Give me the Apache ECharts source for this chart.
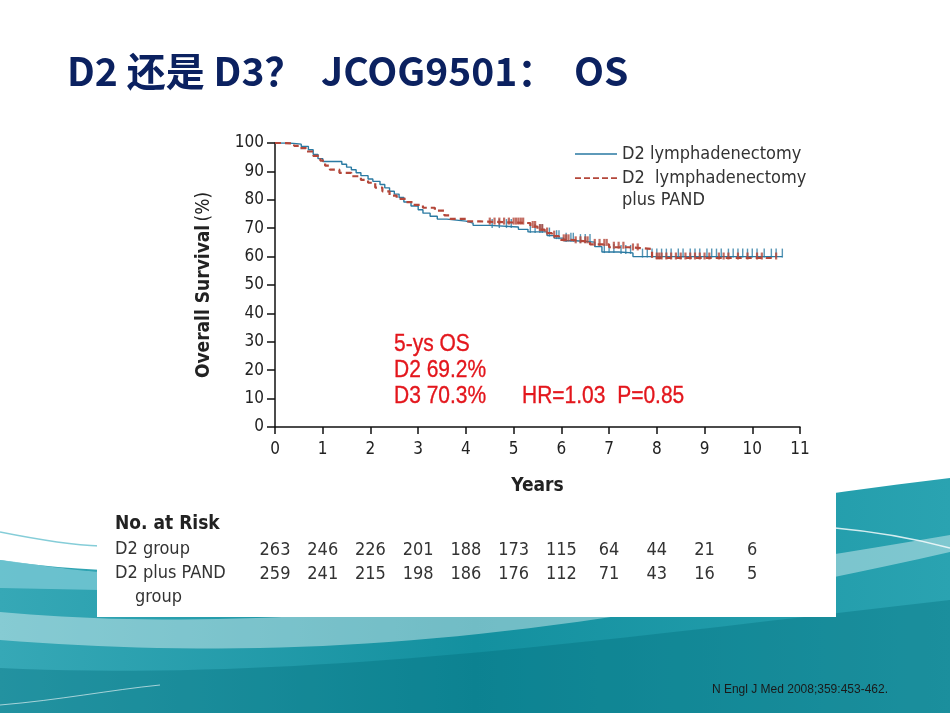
<!DOCTYPE html>
<html>
<head>
<meta charset="utf-8">
<title>D2 还是 D3 JCOG9501 OS</title>
<script src="https://cdn.jsdelivr.net/npm/echarts@6/dist/echarts.min.js"></script>
<style>
  html, body { margin: 0; padding: 0; background: #fff; }
  #main { width: 950px; height: 713px; }
</style>
</head>
<body>
<div id="main"></div>
<script>
// Kaplan-Meier steps: [years, overall survival %]
var d2Steps = [
  [0, 100], [0.3, 99.6], [0.55, 98.8], [0.7, 97.6], [0.8, 96], [0.9, 94.5], [1.0, 93.5],
  [1.4, 92.5], [1.5, 91.5], [1.6, 90.6], [1.7, 89.5], [1.8, 88.5], [1.95, 87.3], [2.05, 86.5],
  [2.2, 85.4], [2.3, 84.2], [2.4, 83], [2.5, 82], [2.6, 80.8], [2.7, 79.2], [2.85, 77.8],
  [3.0, 76.5], [3.1, 75.3], [3.25, 74.2], [3.4, 73.2], [3.6, 72.5], [4.0, 71.8], [4.15, 71.0],
  [4.5, 70.4], [5.1, 69.6], [5.3, 68.7], [5.7, 67.4], [5.85, 66.5], [6.05, 65.6], [6.3, 65.1],
  [6.7, 63.5], [6.85, 61.6], [7.2, 61.3], [7.5, 60], [10.63, 60]
];
var d3Steps = [
  [0, 100], [0.2, 99.8], [0.4, 99], [0.5, 98.2], [0.65, 97], [0.8, 95.5], [0.95, 93.8],
  [1.05, 92], [1.15, 90.6], [1.35, 89.5], [1.6, 88.3], [1.8, 87], [1.95, 86], [2.1, 84.3],
  [2.25, 83], [2.4, 81.5], [2.55, 80.3], [2.75, 79.2], [2.9, 78.2], [3.1, 77.2], [3.35, 76.2],
  [3.55, 74.5], [3.65, 73.3], [4.0, 72.4], [4.3, 71.8], [5.35, 70.6], [5.5, 69.5], [5.65, 68.3],
  [5.8, 67.2], [5.95, 65.9], [6.2, 65.2], [6.6, 64.3], [7.0, 63.3], [7.4, 62.7], [7.9, 59.5],
  [10.5, 59.5]
];
// censoring ticks [years, survival %]
var d2Censored = [
  [4.55, 70.4], [4.7, 70.4], [4.85, 70.4], [4.95, 70.4], [5.35, 68.7], [5.45, 68.7], [5.55, 68.7],
  [5.6, 68.7], [5.75, 67.4], [5.9, 66.5], [5.95, 66.5], [6.1, 65.6], [6.2, 65.6], [6.25, 65.6],
  [6.4, 65.1], [6.5, 65.1], [6.6, 65.1], [6.9, 61.6], [7.0, 61.6], [7.1, 61.6], [7.25, 61.3],
  [7.35, 61.3], [7.45, 61.3], [7.7, 60], [7.8, 60], [7.9, 60], [8.0, 60], [8.1, 60], [8.2, 60],
  [8.3, 60], [8.45, 60], [8.55, 60], [8.7, 60], [8.8, 60], [8.9, 60], [9.05, 60], [9.15, 60],
  [9.25, 60], [9.35, 60], [9.5, 60], [9.6, 60], [9.7, 60], [9.8, 60], [9.9, 60], [10.0, 60],
  [10.1, 60], [10.25, 60], [10.4, 60], [10.5, 60], [10.63, 60]
];
var d3Censored = [
  [4.5, 71.8], [4.6, 71.8], [4.7, 71.8], [4.8, 71.8], [4.9, 71.8], [5.0, 71.8], [5.05, 71.8],
  [5.1, 71.8], [5.15, 71.8], [5.2, 71.8], [5.4, 70.6], [5.45, 70.6], [5.55, 69.5], [5.6, 69.5],
  [5.7, 68.3], [5.85, 67.2], [6.05, 65.9], [6.1, 65.9], [6.15, 65.9], [6.3, 65.2], [6.4, 65.2],
  [6.5, 65.2], [6.55, 65.2], [6.7, 64.3], [6.8, 64.3], [6.9, 64.3], [6.95, 64.3], [7.1, 63.3],
  [7.2, 63.3], [7.3, 63.3], [7.5, 62.7], [7.6, 62.7], [8.0, 59.5], [8.05, 59.5], [8.1, 59.5],
  [8.2, 59.5], [8.3, 59.5], [8.4, 59.5], [8.5, 59.5], [8.6, 59.5], [8.7, 59.5], [8.8, 59.5],
  [8.9, 59.5], [9.0, 59.5], [9.1, 59.5], [9.3, 59.5], [9.4, 59.5], [9.5, 59.5], [9.7, 59.5],
  [9.9, 59.5], [10.1, 59.5], [10.2, 59.5], [10.5, 59.5]
];
var riskYears = [0, 1, 2, 3, 4, 5, 6, 7, 8, 9, 10];
var d2AtRisk = [263, 246, 226, 201, 188, 173, 115, 64, 44, 21, 6];
var d3AtRisk = [259, 241, 215, 198, 186, 176, 112, 71, 43, 16, 5];

var blue = '#2a7aa2';
var red = '#b4473a';
var narrow = "'DejaVu Sans Condensed', 'Liberation Sans Narrow', sans-serif";

var myChart = echarts.init(document.getElementById('main'));
var option = {
  backgroundColor: '#fff',
  animation: false,
  grid: { left: 275, right: 150, top: 143, bottom: 286 },
  legend: {
    left: 570, top: 140, orient: 'vertical', itemWidth: 42, itemHeight: 10, itemGap: 6,
    data: [
      { name: 'D2 lymphadenectomy', icon: 'path://M0,0h42v0.01h-42z M0,4.3h42v1.5h-42z M0,9.99h42v0.01h-42z' },
      {
        name: 'D2 lymphadenectomy plus PAND',
        icon: 'path://M0,0h42v0.01h-42z M0,4.2h6v1.8h-6z M9,4.2h6v1.8h-6z M18,4.2h6v1.8h-6z M27,4.2h6v1.8h-6z M36,4.2h6v1.8h-6z M0,9.99h42v0.01h-42z'
      }
    ],
    formatter: function (name) {
      return name === 'D2 lymphadenectomy plus PAND' ? 'D2  lymphadenectomy' : name;
    },
    textStyle: { fontFamily: narrow, fontSize: 18, color: '#333' }
  },
  xAxis: {
    type: 'value', min: 0, max: 11, interval: 1,
    name: 'Years', nameLocation: 'middle', nameGap: 50,
    nameTextStyle: { fontFamily: narrow, fontSize: 19, fontWeight: 'bold', color: '#222' },
    axisLine: { lineStyle: { color: '#111', width: 1.5 } },
    axisTick: { length: 7, lineStyle: { color: '#111', width: 1.5 } },
    axisLabel: { fontFamily: narrow, fontSize: 17, color: '#222', margin: 14 },
    splitLine: { show: false }
  },
  yAxis: {
    type: 'value', min: 0, max: 100, interval: 10,
    name: '{b|Overall Survival} {n|(%)}', nameLocation: 'middle', nameGap: 61,
    nameTextStyle: {
      rich: {
        b: { fontFamily: narrow, fontSize: 19, fontWeight: 'bold', color: '#222' },
        n: { fontFamily: narrow, fontSize: 19, color: '#222' }
      }
    },
    axisLine: { show: true, lineStyle: { color: '#111', width: 1.5 } },
    axisTick: { length: 8, lineStyle: { color: '#111', width: 1.5 } },
    axisLabel: { fontFamily: narrow, fontSize: 17, color: '#222', margin: 11 },
    splitLine: { show: false }
  },
  series: [
    {
      name: 'D2 lymphadenectomy', type: 'line', step: 'end', symbol: 'none', z: 3,
      lineStyle: { color: blue, width: 1.4 }, itemStyle: { color: blue },
      data: d2Steps
    },
    {
      name: 'D2 lymphadenectomy plus PAND', type: 'line', step: 'end', symbol: 'none', z: 4,
      lineStyle: { color: red, width: 2.2, type: [6, 4] }, itemStyle: { color: red },
      data: d3Steps
    },
    {
      name: 'D2 censored', type: 'scatter', symbol: 'rect', symbolSize: [1.4, 9],
      symbolOffset: [0, -3.5], itemStyle: { color: blue }, z: 3, data: d2Censored
    },
    {
      name: 'D3 censored', type: 'scatter', symbol: 'rect', symbolSize: [2.2, 7],
      symbolOffset: [0, -2], itemStyle: { color: red }, z: 4, data: d3Censored
    }
  ]
};
myChart.setOption(option);

// points along a cubic bezier, for the slide's wave shapes
function bez(p0, p1, p2, p3) {
  var out = [];
  for (var i = 0; i <= 40; i++) {
    var t = i / 40, u = 1 - t;
    out.push([
      u * u * u * p0[0] + 3 * u * u * t * p1[0] + 3 * u * t * t * p2[0] + t * t * t * p3[0],
      u * u * u * p0[1] + 3 * u * u * t * p1[1] + 3 * u * t * t * p2[1] + t * t * t * p3[1]
    ]);
  }
  return out;
}

var redFont = "21px 'Liberation Sans', Arial, sans-serif";
function redText(txt, x, y) {
  return {
    type: 'text', x: x, y: y, scaleY: 1.1,
    style: { text: txt, font: redFont, fill: '#e3161c', stroke: '#e3161c', lineWidth: 0.3, verticalAlign: 'middle' }
  };
}
var g = [
  {
    type: 'polygon', z: -20, silent: true,
    shape: { points: bez([0, 560], [250, 600], [600, 520], [950, 478]).concat([[950, 713], [0, 713]]) },
    style: {
      fill: new echarts.graphic.LinearGradient(0, 0, 1, 0, [
        { offset: 0, color: '#36a8b6' }, { offset: 0.5, color: '#13909f' }, { offset: 1, color: '#2aa3b1' }
      ])
    }
  },
  {
    type: 'polygon', z: -19, silent: true,
    shape: {
      points: bez([0, 612], [200, 630], [450, 620], [950, 535])
        .concat(bez([950, 552], [520, 650], [260, 660], [0, 640]))
    },
    style: { fill: 'rgba(255,255,255,0.4)' }
  },
  {
    type: 'polygon', z: -18, silent: true,
    shape: { points: bez([0, 668], [300, 682], [600, 640], [950, 600]).concat([[950, 713], [0, 713]]) },
    style: { fill: 'rgba(0,105,120,0.35)' }
  },
  {
    type: 'polygon', z: -18, silent: true,
    shape: { points: bez([0, 560], [40, 565], [70, 570], [100, 572]).concat([[100, 590], [0, 588]]) },
    style: { fill: 'rgba(120,200,212,0.8)' }
  },
  {
    type: 'bezierCurve', z: -17, silent: true,
    shape: { x1: 0, y1: 532, cpx1: 40, cpy1: 540, cpx2: 70, cpy2: 545, x2: 100, y2: 546 },
    style: { fill: null, stroke: 'rgba(120,200,212,0.9)', lineWidth: 1.5 }
  },
  {
    type: 'bezierCurve', z: -17, silent: true,
    shape: { x1: 835, y1: 528, cpx1: 880, cpy1: 532, cpx2: 920, cpy2: 540, x2: 950, y2: 548 },
    style: { fill: null, stroke: 'rgba(255,255,255,0.8)', lineWidth: 1.5 }
  },
  {
    type: 'bezierCurve', z: -17, silent: true,
    shape: { x1: 0, y1: 705, cpx1: 60, cpy1: 700, cpx2: 110, cpy2: 690, x2: 160, y2: 685 },
    style: { fill: null, stroke: 'rgba(255,255,255,0.6)', lineWidth: 1 }
  },
  {
    type: 'rect', z: -10, silent: true,
    shape: { x: 97, y: 110, width: 739, height: 507 },
    style: { fill: '#fff' }
  },
  {
    type: 'text', x: 67, y: 71, z: 10,
    style: {
      text: 'D2 还是 D3？  JCOG9501：  OS', verticalAlign: 'middle',
      font: "bold 39px 'Noto Sans CJK SC', sans-serif", fill: '#0b2160'
    }
  },
  {
    type: 'text', left: 622, top: 191,
    style: { text: 'plus PAND', font: '18px ' + narrow, fill: '#333' }
  },
  redText('5-ys OS', 394, 345),
  redText('D2 69.2%', 394, 371),
  redText('D3 70.3%', 394, 397),
  redText('HR=1.03  P=0.85', 522, 397),
  {
    type: 'text', left: 115, top: 515,
    style: { text: 'No. at Risk', font: 'bold 19px ' + narrow, fill: '#222' }
  },
  {
    type: 'text', left: 115, top: 540,
    style: { text: 'D2 group', font: '18px ' + narrow, fill: '#333' }
  },
  {
    type: 'text', left: 115, top: 564,
    style: { text: 'D2 plus PAND', font: '18px ' + narrow, fill: '#333' }
  },
  {
    type: 'text', left: 135, top: 588,
    style: { text: 'group', font: '18px ' + narrow, fill: '#333' }
  },
  {
    type: 'text', right: 62, top: 684,
    style: { text: 'N Engl J Med 2008;359:453-462.', font: "12px 'Liberation Sans Narrow', sans-serif", fill: '#1a1a1a' }
  }
];
riskYears.forEach(function (yr, i) {
  var px = myChart.convertToPixel({ xAxisIndex: 0 }, yr);
  g.push({
    type: 'text', x: px, y: 550,
    style: { text: String(d2AtRisk[i]), font: '18px ' + narrow, fill: '#333', align: 'center', verticalAlign: 'middle' }
  });
  g.push({
    type: 'text', x: px, y: 574,
    style: { text: String(d3AtRisk[i]), font: '18px ' + narrow, fill: '#333', align: 'center', verticalAlign: 'middle' }
  });
});
myChart.setOption({ graphic: g });
</script>
</body>
</html>
